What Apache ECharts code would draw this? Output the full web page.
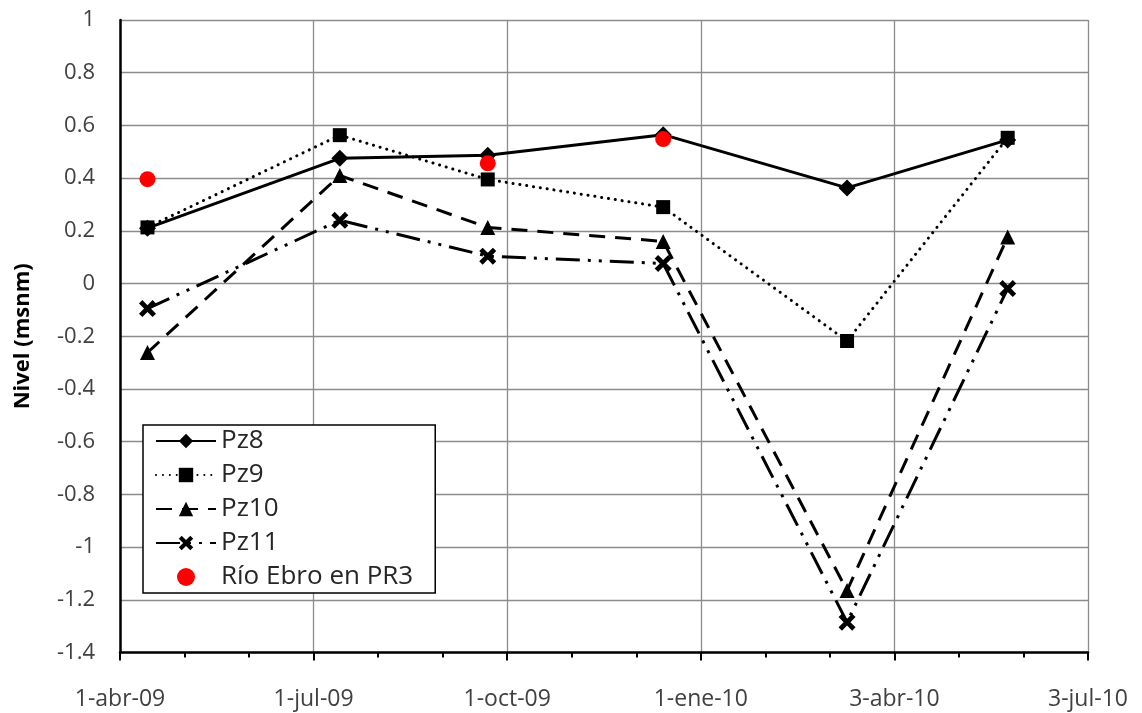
<!DOCTYPE html>
<html>
<head>
<meta charset="utf-8">
<script src="https://cdn.jsdelivr.net/npm/echarts@6/dist/echarts.min.js"></script>
<style>
html,body{margin:0;padding:0;background:#fff;}
#chart{width:1142px;height:713px;}
</style>
</head>
<body>
<div id="chart"></div>
<script>
// ---- data ----
const axisStart = '2009-04-01';
const tickLabels = ['1-abr-09', '1-jul-09', '1-oct-09', '1-ene-10', '3-abr-10', '3-jul-10'];
const sampleDates = ['2009-04-14', '2009-07-14', '2009-09-22', '2009-12-14', '2010-03-11', '2010-05-26'];
const pz8 = [0.21, 0.475, 0.487, 0.565, 0.363, 0.545];
const pz9 = [0.213, 0.563, 0.395, 0.29, -0.218, 0.553];
const pz10 = [-0.262, 0.41, 0.213, 0.16, -1.165, 0.177];
const pz11 = [-0.095, 0.24, 0.104, 0.076, -1.285, -0.019];
const rioDates = ['2009-04-14', '2009-09-22', '2009-12-14'];
const rioEbro = [0.396, 0.456, 0.548];

// ---- helpers ----
const DAY = 86400000;
function dayOffset(s) { return (Date.parse(s + 'T00:00:00Z') - Date.parse(axisStart + 'T00:00:00Z')) / DAY; }
function pairs(dates, vals) { return dates.map((d, i) => [dayOffset(d), vals[i]]); }
const tickStep = 91.6;
const FONT = 'Open Sans';
const xPath = 'path://M0,4 L4,0 L10,6 L16,0 L20,4 L14,10 L20,16 L16,20 L10,14 L4,20 L0,16 L6,10 Z';

const chart = echarts.init(document.getElementById('chart'), null, {renderer: 'canvas'});
chart.setOption({
  animation: false,
  backgroundColor: '#ffffff',
  textStyle: {fontFamily: FONT},
  grid: {left: 120, right: 54, top: 20, bottom: 60.5, containLabel: false},
  xAxis: {
    type: 'value',
    min: 0,
    max: tickStep * 5,
    interval: tickStep,
    axisLine: {show: true, onZero: false, lineStyle: {color: '#000', width: 2.5}},
    axisTick: {show: true, length: 8, lineStyle: {color: '#000', width: 2}},
    minorTick: {show: true, splitNumber: 3, length: 5, lineStyle: {color: '#000', width: 2}},
    splitLine: {show: true, lineStyle: {color: '#8c8c8c', width: 1.3}},
    axisLabel: {
      margin: 35, fontSize: 23, color: '#404040', fontFamily: FONT,
      formatter: v => tickLabels[Math.round(v / tickStep)] || ''
    }
  },
  yAxis: {
    type: 'value',
    min: -1.4,
    max: 1,
    interval: 0.2,
    name: 'Nivel (msnm)',
    nameLocation: 'middle',
    nameRotate: 90,
    nameGap: 86,
    nameTextStyle: {fontSize: 22, fontWeight: 'bold', color: '#000', fontFamily: FONT},
    axisLine: {show: true, onZero: false, lineStyle: {color: '#000', width: 2.5}},
    axisTick: {show: false},
    splitLine: {show: true, lineStyle: {color: '#8c8c8c', width: 1.3}},
    axisLabel: {
      margin: 25, fontSize: 22, color: '#404040', fontFamily: FONT,
      formatter: v => String(Number(v.toFixed(1)))
    }
  },
  legend: {
    orient: 'vertical',
    left: 143,
    top: 425,
    itemWidth: 60,
    itemHeight: 18,
    itemGap: 8,
    padding: [3, 22, 3, 12],
    backgroundColor: '#fff',
    borderColor: '#000',
    borderWidth: 1.5,
    borderRadius: 0,
    textStyle: {fontSize: 26, lineHeight: 24, color: '#262626', fontFamily: FONT, padding: [0, 0, 0, 0]},
    data: ['Pz8', 'Pz9', 'Pz10', 'Pz11', 'Río Ebro en PR3']
  },
  series: [
    {
      name: 'Pz8', type: 'line', data: pairs(sampleDates, pz8),
      symbol: 'diamond', symbolSize: 17,
      lineStyle: {color: '#000', width: 3, type: 'solid'},
      itemStyle: {color: '#000'}, z: 2
    },
    {
      name: 'Pz9', type: 'line', data: pairs(sampleDates, pz9),
      symbol: 'rect', symbolSize: 14,
      lineStyle: {color: '#000', width: 3, type: [0.1, 6.8], cap: 'round'},
      itemStyle: {color: '#000'}, z: 3
    },
    {
      name: 'Pz10', type: 'line', data: pairs(sampleDates, pz10),
      symbol: 'triangle', symbolSize: 15,
      lineStyle: {color: '#000', width: 3, type: [16, 10]},
      itemStyle: {color: '#000'}, z: 4
    },
    {
      name: 'Pz11', type: 'line', data: pairs(sampleDates, pz11),
      symbol: xPath, symbolSize: 17,
      lineStyle: {color: '#000', width: 3, type: [24, 8, 3, 8, 3, 8]},
      itemStyle: {color: '#000'}, z: 5
    },
    {
      name: 'Río Ebro en PR3', type: 'scatter', data: pairs(rioDates, rioEbro),
      symbol: 'circle', symbolSize: 16,
      itemStyle: {color: '#ff0000', opacity: 1}, z: 6
    }
  ]
});
</script>
</body>
</html>
